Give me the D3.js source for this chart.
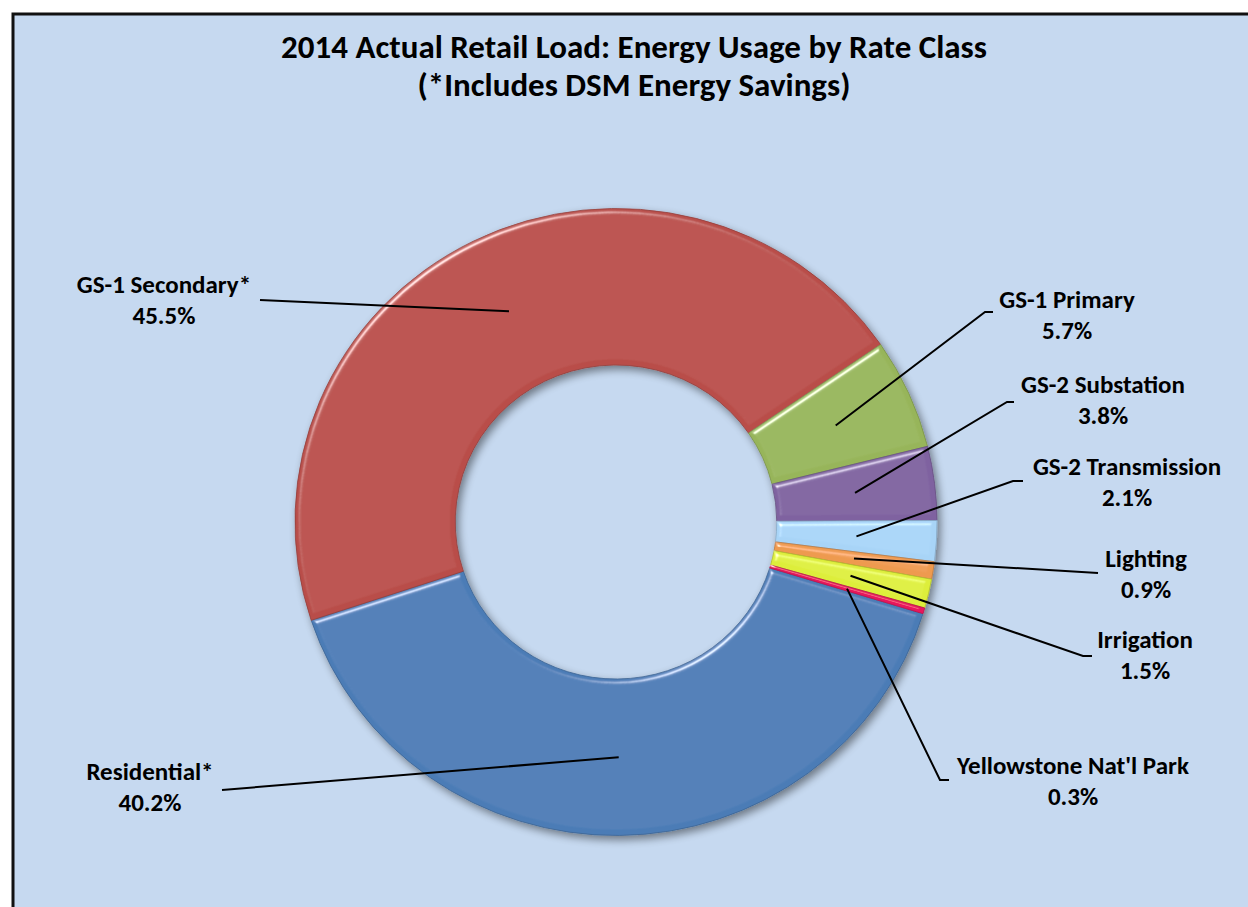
<!DOCTYPE html>
<html>
<head>
<meta charset="utf-8">
<script src="https://cdn.jsdelivr.net/npm/d3@7"></script>
<style>
  html, body { margin: 0; padding: 0; background: #fff; }
  svg { display: block; }
  text { font-family: Carlito, Calibri, Lato, "Open Sans", sans-serif; font-weight: bold; fill: #000; }
</style>
</head>
<body>
<svg id="chart" width="1248" height="907"></svg>
<script>
// data
const categories = ["Residential*", "GS-1 Secondary*", "GS-1 Primary", "GS-2 Substation",
  "GS-2 Transmission", "Lighting", "Irrigation", "Yellowstone Nat'l Park"];
const shares = [40.2, 45.5, 5.7, 3.8, 2.1, 0.9, 1.5, 0.3];
const titleLines = ["2014 Actual Retail Load: Energy Usage by Rate Class", "(*Includes DSM Energy Savings)"];

const colors = ["#4B7CB6", "#B94E4A", "#97B55A", "#7F62A0", "#A8D4F7", "#EE9A4F", "#DDEE3A", "#E8195D"];

// label layout: text centre x, first baseline y, elbow x/y, end x
const labelLayout = [
  { x: 150, y: 780, ex: 222, ey: 790, end: 222 },
  { x: 164, y: 293, ex: 260, ey: 300, end: 260 },
  { x: 1067, y: 308, ex: 985, ey: 312, end: 993 },
  { x: 1103, y: 393, ex: 1007, ey: 402, end: 1014 },
  { x: 1127, y: 475, ex: 1013, ey: 481, end: 1023 },
  { x: 1146, y: 567, ex: 1098, ey: 573, end: 1098 },
  { x: 1145, y: 648, ex: 1083, ey: 656, end: 1092 },
  { x: 1073, y: 774, ex: 940, ey: 780, end: 949 }
];

const width = 1248, height = 907;
const cx = 616, cy = 522, sx = 1.024;
const outerR = 313.5, innerR = 157;

const svg = d3.select("#chart");

// chart frame (cropped on the right and bottom)
svg.append("rect")
  .attr("x", 13).attr("y", 14)
  .attr("width", 1300).attr("height", 950)
  .attr("fill", "#C6D9F0")
  .attr("stroke", "#111")
  .attr("stroke-width", 3);

// title
svg.selectAll("text.title")
  .data(titleLines)
  .enter()
  .append("text")
  .attr("class", "title")
  .attr("x", 634)
  .attr("y", (d, i) => 58 + i * 38)
  .attr("text-anchor", "middle")
  .style("font-size", "33px")
  .text(d => d);

// filters: drop shadow under the ring, bevel on each slice
const defs = svg.append("defs");
const shadow = defs.append("filter").attr("id", "shadow")
  .attr("x", "-10%").attr("y", "-10%").attr("width", "125%").attr("height", "125%");
shadow.append("feGaussianBlur").attr("in", "SourceAlpha").attr("stdDeviation", 4);
shadow.append("feOffset").attr("dx", 3).attr("dy", 4).attr("result", "off");
shadow.append("feComponentTransfer").append("feFuncA").attr("type", "linear").attr("slope", 0.45);
const sm = shadow.append("feMerge");
sm.append("feMergeNode");
sm.append("feMergeNode").attr("in", "SourceGraphic");

const bevel = defs.append("filter").attr("id", "bevel");
bevel.append("feGaussianBlur").attr("in", "SourceAlpha").attr("stdDeviation", 2.5).attr("result", "blur");
bevel.append("feSpecularLighting").attr("in", "blur")
  .attr("surfaceScale", 5).attr("specularConstant", 0.9).attr("specularExponent", 25)
  .attr("lighting-color", "#fff").attr("result", "spec")
  .append("feDistantLight").attr("azimuth", 235).attr("elevation", 30);
bevel.append("feComposite").attr("in", "spec").attr("in2", "SourceAlpha").attr("operator", "in").attr("result", "specIn");
bevel.append("feComposite").attr("in", "SourceGraphic").attr("in2", "specIn")
  .attr("operator", "arithmetic").attr("k1", 0).attr("k2", 1).attr("k3", 0.8).attr("k4", 0);

const pie = d3.pie()
  .sort(null)
  .value(d => d)
  .startAngle(107 * Math.PI / 180)
  .endAngle(107 * Math.PI / 180 + 2 * Math.PI);

const arc = d3.arc().innerRadius(innerR).outerRadius(outerR);
const arcs = pie(shares);

const ring = svg.append("g")
  .attr("transform", `translate(${cx},${cy}) scale(${sx},1)`)
  .attr("filter", "url(#shadow)");

ring.selectAll("path")
  .data(arcs)
  .enter()
  .append("path")
  .attr("d", arc)
  .attr("fill", (d, i) => colors[i])
  .attr("stroke", (d, i) => d3.color(colors[i]).darker(0.6))
  .attr("stroke-width", 0.8)
  .attr("filter", "url(#bevel)");

// leader lines from slice centroid to label
const lines = svg.append("g");
arcs.forEach((d, i) => {
  const c = arc.centroid(d);
  const p0 = [cx + c[0] * sx, cy + c[1]];
  const L = labelLayout[i];
  lines.append("path")
    .attr("d", d3.line()([p0, [L.ex, L.ey], [L.end, L.ey]]))
    .attr("fill", "none")
    .attr("stroke", "#000")
    .attr("stroke-width", 2);
});

// labels: name + percentage
const fmt = d3.format(".1f");
const labels = svg.append("g");
categories.forEach((name, i) => {
  const L = labelLayout[i];
  const t = labels.append("text")
    .attr("text-anchor", "middle")
    .style("font-size", "25px");
  t.append("tspan").attr("x", L.x).attr("y", L.y).text(name);
  t.append("tspan").attr("x", L.x).attr("y", L.y + 31).text(fmt(shares[i]) + "%");
});
</script>
</body>
</html>
